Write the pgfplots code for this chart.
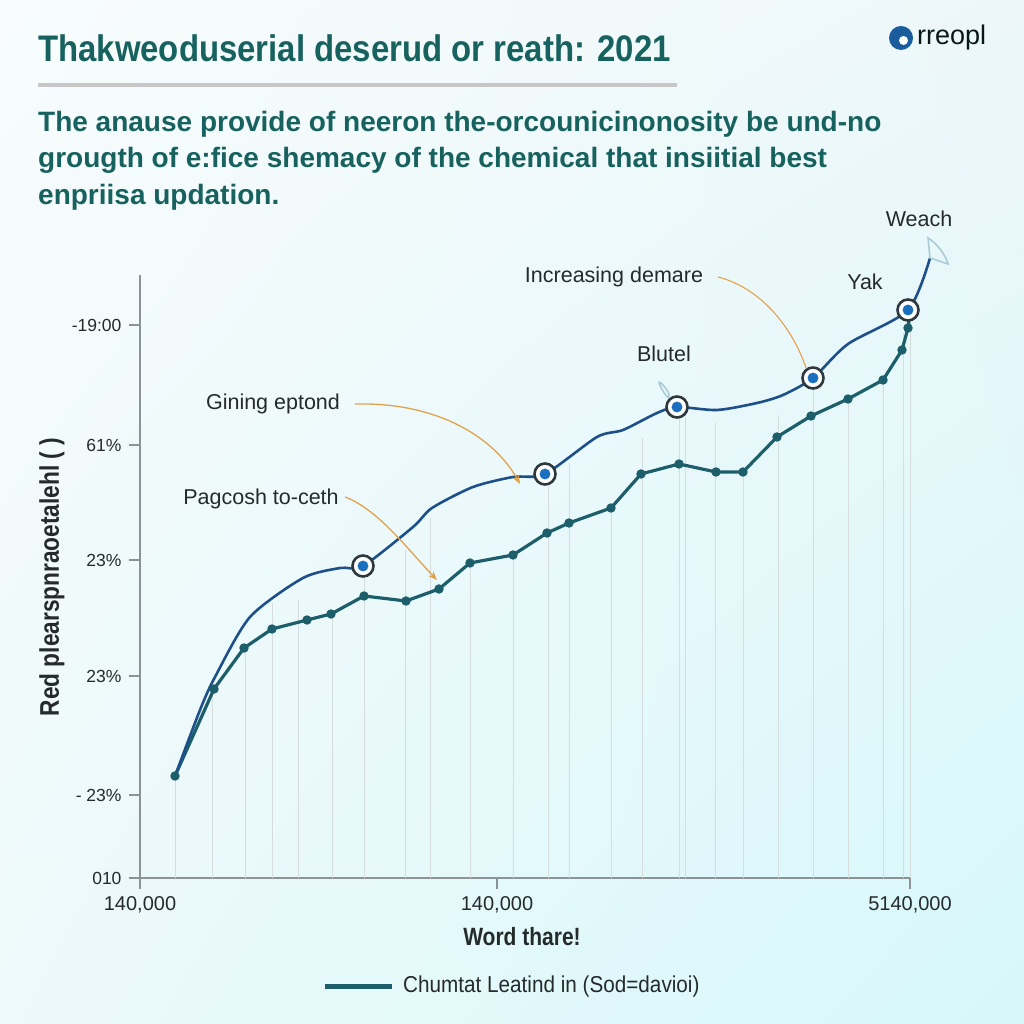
\documentclass[border=0pt]{standalone}
\usepackage{pgfplots}
\pgfplotsset{compat=1.18}
\usepackage{fontspec}
\setmainfont{Liberation Sans}
\newfontfamily\cond[FakeStretch=0.90]{Liberation Sans}
\newfontfamily\condb[FakeStretch=0.84]{Liberation Sans Bold}
\newfontfamily\titleb[FakeStretch=0.89]{Liberation Sans Bold}
\newfontfamily\plainb{Liberation Sans Bold}
\usetikzlibrary{arrows.meta,shadings}
\definecolor{bgUL}{HTML}{F8FCFD}
\definecolor{bgUR}{HTML}{EDF7F9}
\definecolor{bgLL}{HTML}{EDF9FA}
\definecolor{bgLR}{HTML}{D6F8FB}
\definecolor{titleC}{HTML}{17625F}
\definecolor{tealC}{HTML}{1C5F6B}
\definecolor{blueC}{HTML}{1D4F88}
\definecolor{dotC}{HTML}{1A6FBF}
\definecolor{ringC}{HTML}{2F383D}
\definecolor{gridC}{HTML}{D6DDDF}
\definecolor{axisC}{HTML}{8C9396}
\definecolor{arrowC}{HTML}{E2A24C}
\definecolor{textC}{HTML}{252A2C}
\definecolor{logoC}{HTML}{1B5C9C}
\definecolor{petalC}{HTML}{A9CCD6}
\begin{document}
\begin{tikzpicture}[x=1pt,y=1pt]
\shade[upper left=bgUL, upper right=bgUR, lower left=bgLL, lower right=bgLR] (0,0) rectangle (1024,1024);
% title
\node[anchor=base west, inner sep=0, text=titleC, font=\titleb\fontsize{37}{40}\selectfont] at (38,962) {Thakweoduserial deserud or reath: 2021};
\draw[line width=4pt, color=black!22] (38,939) -- (677,939);
\node[anchor=base west, inner sep=0, text=titleC, font=\plainb\fontsize{28}{30}\selectfont] at (38,892) {The anause provide of neeron the-orcounicinonosity be und-no};
\node[anchor=base west, inner sep=0, text=titleC, font=\plainb\fontsize{28}{30}\selectfont] at (38,856) {grougth of e:fice shemacy of the chemical that insiitial best};
\node[anchor=base west, inner sep=0, text=titleC, font=\plainb\fontsize{28}{30}\selectfont] at (38,819) {enpriisa updation.};
% logo
\fill[logoC] (901,986) circle (12);
\fill[white] (903.5,983.5) circle (4.5);
\node[anchor=west, inner sep=0, text=black!75!tealC, font=\fontsize{27}{27}\selectfont] at (917,986) {rreopl};
\begin{axis}[
  at={(140pt,146pt)}, anchor=south west,
  x=1pt, y=1pt,
  xmin=140, xmax=910, ymin=146, ymax=749,
  enlargelimits=false, clip=false,
  axis x line=bottom, axis y line=left,
  axis line style={-, color=axisC, line width=1.6pt},
  tick align=outside, major tick length=11pt,
  tick style={color=axisC, line width=1.2pt},
  xtick={140,497,910},
  xticklabels={{140,000},{140,000},{5140,000}},
  ytick={146,229,348,464,579,699},
  yticklabels={010, - 23\%, 23\%, 23\%, 61\%, -19:00},
  xticklabel style={font=\fontsize{20}{20}\selectfont, text=textC, yshift=-4pt},
  yticklabel style={font=\fontsize{17.5}{17.5}\selectfont, text=textC, xshift=-4pt},
]
% vertical grid lines
\addplot[draw=none, mark=none, forget plot,
  error bars/.cd, y dir=plus, y explicit, error mark=none,
  error bar style={color=gridC, line width=1pt}]
 coordinates {
 (175,146) +- (0,102) (212,146) +- (0,190) (245,146) +- (0,230) (272,146) +- (0,275)
 (298,146) +- (0,278) (332,146) +- (0,265) (364,146) +- (0,311) (405,146) +- (0,328)
 (430,146) +- (0,360) (470,146) +- (0,316) (513,146) +- (0,323) (548,146) +- (0,401)
 (569,146) +- (0,415) (611,146) +- (0,370) (642,146) +- (0,440) (679,146) +- (0,461)
 (685,146) +- (0,461) (715,146) +- (0,455) (743,146) +- (0,406) (778,146) +- (0,463)
 (813,146) +- (0,488) (848,146) +- (0,478) (883,146) +- (0,498) (903,146) +- (0,545)
 (910,146) +- (0,568)
 };
% teal series
\addplot[color=tealC, line width=3.2pt, mark=*, mark size=3pt, mark options={fill=tealC, draw=tealC}]
 coordinates {
 (175,248) (214,335) (244,376) (272,395) (307,404) (331,410) (364,428)
 (406,423) (439,435) (470,461) (513,469) (547,491) (569,501) (611,516) (641,550)
 (679,560) (716,552) (743,552) (777,587) (811,608) (848,625) (883,644) (902,674)
 (908,696) (910,712)
 };
% blue series
\addplot[color=blueC, line width=2.6pt, smooth, tension=0.45, mark=none]
 coordinates {
 (175,248) (200,314) (215,347) (250,407) (303,446) (340,456) (363,458) (413,497)
 (432,516) (473,537) (513,547) (545,550) (597,587) (623,594) (657,611) (677,617)
 (717,614) (757,621) (783,629) (813,646) (848,680) (908,714) (930,766)
 };
% highlighted points
\addplot[only marks, mark=*, mark size=10.5pt, mark options={fill=white, draw=ringC, line width=2.6pt}]
 coordinates {(363,458) (545,550) (677,617) (813,646) (908,714)};
\addplot[only marks, mark=*, mark size=5.2pt, mark options={fill=dotC, draw=dotC}]
 coordinates {(363,458) (545,550) (677,617) (813,646) (908,714)};
\end{axis}
% annotations
\begin{scope}[font=\fontsize{21.5}{21.5}\selectfont, text=textC]
\node at (273,620) {Gining eptond};
\node at (261,525) {Pagcosh to-ceth};
\node at (614,747) {Increasing demare};
\node at (664,670) {Blutel};
\node at (865,742) {Yak};
\node at (919,805) {Weach};
\end{scope}
\draw[arrowC, line width=1.3pt, -{Stealth[length=9pt,width=7pt]}] (355,620) .. controls (440,622) and (495,585) .. (520,540);
\draw[arrowC, line width=1.3pt, -{Stealth[length=9pt,width=7pt]}] (345,527) .. controls (378,515) and (410,472) .. (437,444);
\draw[arrowC, line width=1.1pt] (718,747) .. controls (765,735) and (795,690) .. (806,656);
% decorative petals
\draw[petalC, line width=1.6pt] (668,626) .. controls (660,636) and (656,646) .. (662,640) .. controls (666,636) and (672,628) .. (668,626);
\draw[petalC, line width=1.6pt] (930,766) -- (928,786) .. controls (938,780) and (946,768) .. (948,760) -- cycle;
% axis titles
\node[rotate=90, text=textC, font=\condb\fontsize{27}{27}\selectfont] at (52,447) {Red plearspnraoetalehl ( )};
\node[text=textC, font=\condb\fontsize{25}{25}\selectfont] at (522,87) {Word thare!};
% legend
\draw[tealC, line width=5pt] (325,37) -- (392,37);
\node[anchor=west, inner sep=0, text=textC, font=\cond\fontsize{23}{23}\selectfont] at (403,37) {Chumtat Leatind in (Sod=davioi)};
\end{tikzpicture}
\end{document}
